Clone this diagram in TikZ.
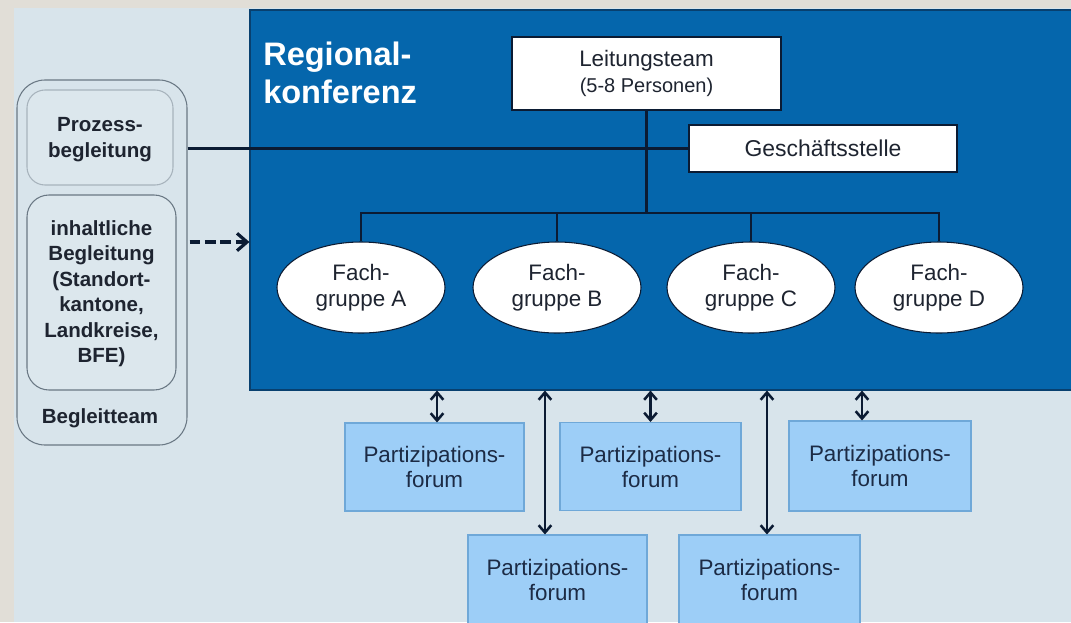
\documentclass[tikz,border=0pt]{standalone}
\usepackage{fontspec}
\setmainfont{Liberation Sans}
\usetikzlibrary{arrows.meta,shapes.geometric}
\definecolor{bgbeige}{HTML}{E1DED7}
\definecolor{panel}{HTML}{D8E4EB}
\definecolor{innerpanel}{HTML}{DCE7ED}
\definecolor{darkblue}{HTML}{0566AC}
\definecolor{rkborder}{HTML}{08406F}
\definecolor{pffill}{HTML}{9DCEF7}
\definecolor{pfborder}{HTML}{6FA8D8}
\definecolor{navy}{HTML}{0B1B33}
\definecolor{txtdark}{HTML}{1E2430}
\definecolor{pftxt}{HTML}{1C2B45}
\definecolor{grayborder}{HTML}{6A7884}
\definecolor{lightborder}{HTML}{A7B3BC}
\begin{document}
\begin{tikzpicture}[x=0.75pt,y=-0.75pt,
  conn/.style={draw=navy,line width=2pt},
  dbl/.style={draw=navy,line width=1.9pt,{Straight Barb[length=5.5pt,width=9.5pt,line width=1.9pt]}-{Straight Barb[length=5.5pt,width=9.5pt,line width=1.9pt]}},
  whitebox/.style={rectangle,draw=navy,line width=0.8pt,fill=white,inner sep=0pt,align=center,text=txtdark},
  fgroup/.style={ellipse,draw=navy,line width=0.8pt,fill=white,inner sep=0pt,align=center,text=txtdark,
     minimum width=126pt,minimum height=68.25pt,font=\fontsize{16.8pt}{19.5pt}\selectfont},
  pfbox/.style={rectangle,draw=pfborder,line width=0.8pt,fill=pffill,inner sep=0pt,align=center,text=pftxt,
     minimum height=66pt,font=\fontsize{16.8pt}{18.75pt}\selectfont},
  sidetext/.style={font=\bfseries\fontsize{15.4pt}{19.1pt}\selectfont,text=txtdark,align=center,inner sep=0pt}
]
\clip (0,0) rectangle (1071,622);
\useasboundingbox (0,0) rectangle (1071,622);
\fill[bgbeige] (0,0) rectangle (1071,622);
\fill[panel] (14,8) rectangle (1071,622);

% Regionalkonferenz
\node[rectangle,fill=darkblue,draw=rkborder,line width=0.8pt,minimum width=618.75pt,minimum height=285pt,inner sep=0pt] (rk) at (662.5,200) {};
\node[anchor=north west,inner sep=0pt,align=left,text=white,font=\bfseries\fontsize{24.4pt}{28.5pt}\selectfont] (rktitle) at (263,42) {Regional-\\konferenz};

\node[whitebox,minimum width=201.75pt,minimum height=54.75pt] (leit) at (646.5,73.5)
  {{\fontsize{16.8pt}{19.5pt}\selectfont Leitungsteam}\\[4.5pt]{\fontsize{15pt}{17pt}\selectfont (5-8 Personen)}};
\node[whitebox,minimum width=201pt,minimum height=35.25pt,font=\fontsize{17.2pt}{19pt}\selectfont] (gs) at (823,148.5) {Geschäftsstelle};

\node[fgroup] (fa) at (361,287.5) {Fach-\\gruppe A};
\node[fgroup] (fb) at (557,287.5) {Fach-\\gruppe B};
\node[fgroup] (fc) at (751,287.5) {Fach-\\gruppe C};
\node[fgroup] (fd) at (939,287.5) {Fach-\\gruppe D};

% Begleitteam
\node[rectangle,rounded corners=21pt,draw=grayborder,line width=0.8pt,fill=panel,minimum width=127.5pt,minimum height=273.75pt,inner sep=0pt] (begleit) at (102,262.5) {};
\node[rectangle,rounded corners=13.5pt,draw=lightborder,line width=0.8pt,fill=innerpanel,minimum width=109.5pt,minimum height=71.25pt,inner sep=0pt] (proz) at (100,137.5) {};
\node[sidetext] (proztext) at (100,139.5) {Prozess-\\begleitung};
\node[rectangle,rounded corners=16.5pt,draw=grayborder,line width=0.8pt,fill=innerpanel,minimum width=111.75pt,minimum height=146.25pt,inner sep=0pt] (inh) at (101.5,292.5) {};
\node[sidetext] (inhtext) at (101.5,293.5) {inhaltliche\\Begleitung\\(Standort-\\kantone,\\Landkreise,\\BFE)};
\node[sidetext] (bteam) at (100,418) {Begleitteam};

% Partizipationsforen
\node[pfbox,minimum width=134.25pt] (pf1) at (434.5,467) {Partizipations-\\forum};
\node[pfbox,minimum width=135.75pt] (pf2) at (650.5,466.5) {Partizipations-\\forum};
\node[pfbox,minimum width=136.5pt,minimum height=67.5pt] (pf3) at (880,466) {Partizipations-\\forum};
\node[pfbox,minimum width=134.25pt,minimum height=67.5pt] (pf4) at (557.5,580) {Partizipations-\\forum};
\node[pfbox,minimum width=135.75pt,minimum height=67.5pt] (pf5) at (769.5,580) {Partizipations-\\forum};

% connectors
\coordinate (busy) at (0,213);
\coordinate (dashy) at (0,242);
\draw[conn] (begleit.east |- gs.west) -- (gs.west);
\draw[conn] (leit.south) -- (leit.south |- busy);
\draw[conn] (fa.north) -- (fa.north |- busy) -- (fd.north |- busy) -- (fd.north);
\draw[conn] (fb.north |- busy) -- (fb.north);
\draw[conn] (fc.north |- busy) -- (fc.north);
\draw[draw=navy,line width=2.6pt,dash pattern=on 8pt off 3.5pt,-{Straight Barb[length=7.5pt,width=13pt,line width=2.4pt]}] ([xshift=1.5pt]begleit.east |- dashy) -- (rk.west |- dashy);

\draw[dbl] ([xshift=1.9pt]pf1.north |- rk.south) -- ([xshift=1.9pt]pf1.north);
\draw[dbl] (pf2.north |- rk.south) -- (pf2.north);
\draw[dbl] ([xshift=-13.5pt]pf3.north |- rk.south) -- ([xshift=-13.5pt]pf3.north);
\draw[dbl] ([xshift=-9.4pt]pf4.north |- rk.south) -- ([xshift=-9.4pt]pf4.north);
\draw[dbl] ([xshift=-1.9pt]pf5.north |- rk.south) -- ([xshift=-1.9pt]pf5.north);
\end{tikzpicture}
\end{document}
